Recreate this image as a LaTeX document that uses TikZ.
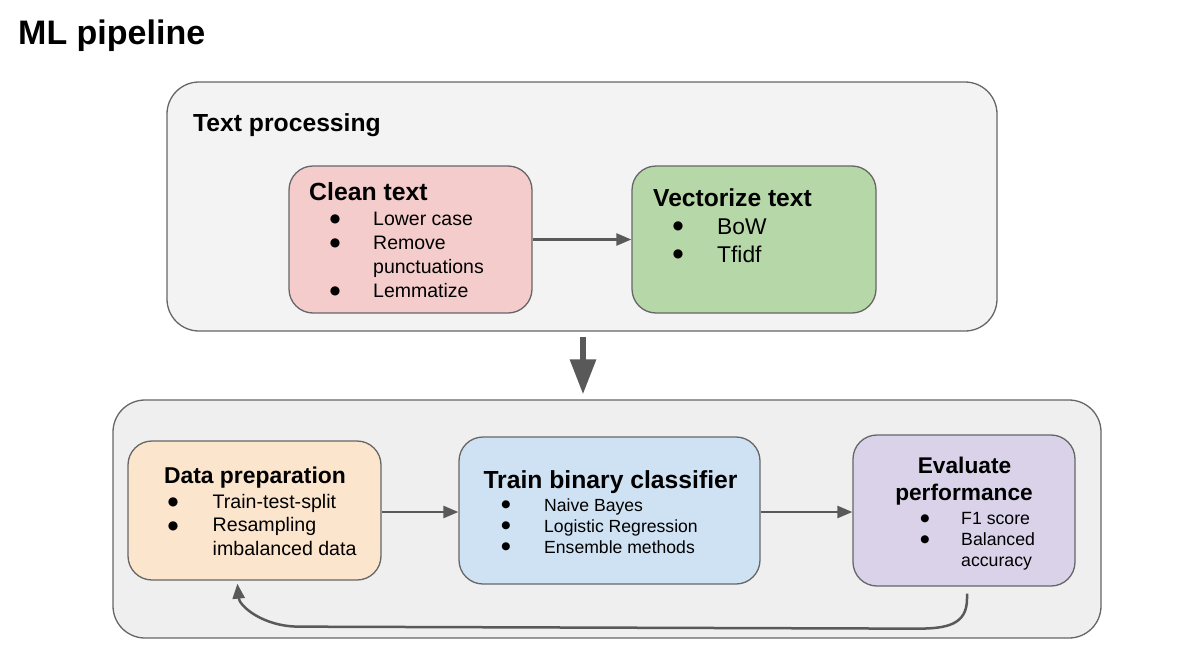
\documentclass[tikz,border=0pt]{standalone}
\usepackage{fontspec}
\setmainfont{Liberation Sans}
\newfontfamily\bulfont{DejaVu Sans}
\usetikzlibrary{arrows.meta,calc}
\definecolor{lg}{HTML}{666666}
\definecolor{ag}{HTML}{595959}
\definecolor{outA}{HTML}{F3F3F3}
\definecolor{outB}{HTML}{EFEFEF}
\definecolor{cred}{HTML}{F4CCCC}
\definecolor{cgreen}{HTML}{B6D7A8}
\definecolor{corange}{HTML}{FCE5CD}
\definecolor{cblue}{HTML}{CFE2F3}
\definecolor{cpurple}{HTML}{D9D2E9}
\newcommand\fs[1]{\fontsize{#1}{#1}\selectfont}
\tikzset{
  outer/.style={draw=lg, line width=1.3pt, rounded corners=32pt, inner sep=0pt},
  inbox/.style={draw=lg, line width=1.3pt, rounded corners=24pt, inner sep=0pt},
  txt/.style={inner sep=0pt, anchor=base west},
  ctxt/.style={inner sep=0pt, anchor=base},
  bul/.style={inner sep=0pt, anchor=center, font=\bulfont\fs{12}},
  arr/.style={draw=ag, line width=2.5pt, -{Triangle[length=15pt,width=12pt]}},
  bigarr/.style={draw=ag, line width=6pt, -{Triangle[length=35pt,width=25pt]}},
}
\begin{document}
\begin{tikzpicture}[x=1pt,y=-1pt]
\useasboundingbox[fill=white] (0,0) rectangle (1187,672);
\node[txt, font=\bfseries\fs{34}] (title) at (18,44) {ML pipeline};

% Text processing group
\node[outer, fill=outA, minimum width=830pt, minimum height=249pt] (tp) at (582,206.5) {};
\node[txt, font=\bfseries\fs{24.7}] (tpl) at (193,131) {Text processing};

\node[inbox, fill=cred, minimum width=243pt, minimum height=147pt] (clean) at (410.5,239.5) {};
\node[txt, font=\bfseries\fs{24.8}] (cleanl) at (309,200.5) {Clean text};
\node[bul] (cb1) at (335,219) {●};
\node[bul] (cb2) at (335,243) {●};
\node[bul] (cb3) at (335,291) {●};
\node[txt, font=\fs{19.5}] (ct1) at (373,225) {Lower case};
\node[txt, font=\fs{19.5}] (ct2) at (373,249) {Remove};
\node[txt, font=\fs{19.5}] (ct3) at (373,273) {punctuations};
\node[txt, font=\fs{19.5}] (ct4) at (373,297) {Lemmatize};

\node[inbox, fill=cgreen, minimum width=244pt, minimum height=147pt] (vect) at (754,239.5) {};
\node[txt, font=\bfseries\fs{24.6}] (vectl) at (653,206) {Vectorize text};
\node[bul] (vb1) at (678,226) {●};
\node[bul] (vb2) at (678,254) {●};
\node[txt, font=\fs{22.8}] (vt1) at (717,234) {BoW};
\node[txt, font=\fs{22.8}] (vt2) at (717,262) {Tfidf};

\draw[arr] (clean) -- (vect);

% ML group
\node[outer, fill=outB, minimum width=988pt, minimum height=238pt] (ml) at (607,519) {};
\draw[bigarr, shorten <=5pt, shorten >=5pt] (tp.south -| 583,0) -- (ml.north -| 583,0);

\node[inbox, fill=corange, minimum width=253pt, minimum height=139pt] (dp) at (254.5,510.5) {};
\node[ctxt, font=\bfseries\fs{22.9}] (dpl) at (255,483.3) {Data preparation};
\node[bul] (db1) at (173,502) {●};
\node[bul] (db2) at (173,526) {●};
\node[txt, font=\fs{19.6}] (dt1) at (212.5,508.3) {Train-test-split};
\node[txt, font=\fs{19.6}] (dt2) at (212.5,531.7) {Resampling};
\node[txt, font=\fs{19.6}] (dt3) at (212.5,555) {imbalanced data};

\node[inbox, fill=cblue, minimum width=301pt, minimum height=147pt] (tb) at (609.5,510.5) {};
\node[ctxt, font=\bfseries\fs{24.7}] (tbl) at (610.5,488) {Train binary classifier};
\node[bul, font=\bulfont\fs{10.5}] (tbb1) at (506,505) {●};
\node[bul, font=\bulfont\fs{10.5}] (tbb2) at (506,526) {●};
\node[bul, font=\bulfont\fs{10.5}] (tbb3) at (506,547) {●};
\node[txt, font=\fs{17.6}] (tbt1) at (544,511) {Naive Bayes};
\node[txt, font=\fs{17.6}] (tbt2) at (544,532) {Logistic Regression};
\node[txt, font=\fs{17.6}] (tbt3) at (544,553) {Ensemble methods};

\node[inbox, fill=cpurple, minimum width=222pt, minimum height=151pt] (ev) at (964,510.5) {};
\node[ctxt, font=\bfseries\fs{22.7}] (evl1) at (964.5,473.3) {Evaluate};
\node[ctxt, font=\bfseries\fs{22.7}] (evl2) at (964,500.5) {performance};
\node[bul, font=\bulfont\fs{10.5}] (eb1) at (925,518.3) {●};
\node[bul, font=\bulfont\fs{10.5}] (eb2) at (925,540) {●};
\node[txt, font=\fs{17.7}] (et1) at (961,524.3) {F1 score};
\node[txt, font=\fs{17.7}] (et2) at (961,545.3) {Balanced};
\node[txt, font=\fs{17.7}] (et3) at (961,566.5) {accuracy};

\draw[arr] (dp.east |- 0,512) -- (tb.west |- 0,512);
\draw[arr] (tb.east |- 0,512) -- (ev.west |- 0,512);

\coordinate (fbs) at ($(ev.south)+(3,7)$);
\coordinate (fbe) at ($(dp.south west)+(110,3)$);
\draw[arr] (fbs) -- ++(0,5) .. controls ($(fbs)+(0,31)$) and ($(fbs)+(-20,35)$) .. ($(fbs)+(-50,35)$)
  -- ($(fbe)+(62,43)$) .. controls ($(fbe)+(25,43)$) and ($(fbe)+(2,22)$) .. (fbe);
\end{tikzpicture}
\end{document}
